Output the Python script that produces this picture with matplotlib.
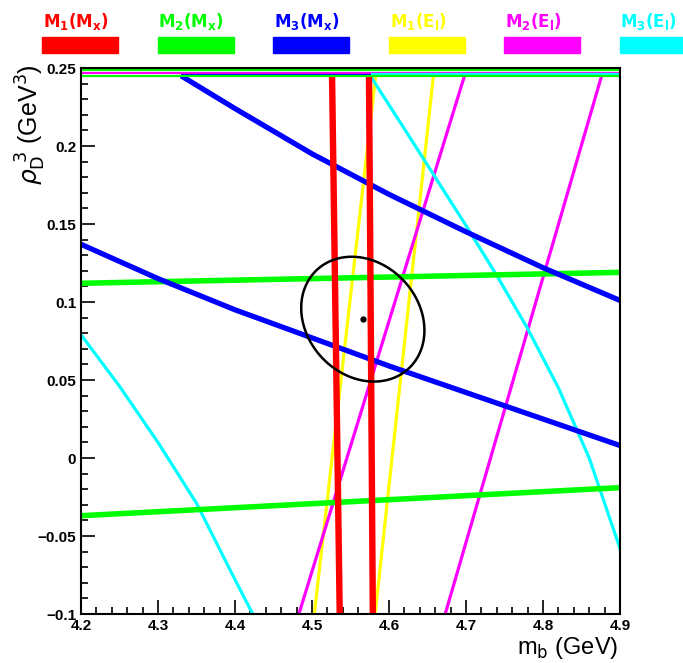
import numpy as np
import matplotlib
matplotlib.use("Agg")
import matplotlib.pyplot as plt
from matplotlib.patches import Polygon
from matplotlib.ticker import MultipleLocator, FuncFormatter

plt.rcParams['font.family'] = ['Liberation Sans', 'DejaVu Sans']

# ---- data ----
XMIN, XMAX = 4.2, 4.9
YMIN, YMAX = -0.1, 0.25
TOP_Y = 0.2465  # curves run along the top edge once clipped

# M1(Mx), red: two almost vertical bands (x at bottom, x at top)
red_x = [[4.536, 4.526], [4.579, 4.574]]
red_y = [-0.1, TOP_Y]

# M2(Mx), green: two nearly flat lines
green_x = [4.2, 4.9]
green_upper = [0.112, 0.119]
green_lower = [-0.037, -0.019]

# M3(Mx), blue
blue_lower_x = [4.2, 4.3, 4.4, 4.5, 4.6, 4.7, 4.8, 4.9]
blue_lower_y = [0.137, 0.115, 0.095, 0.077, 0.059, 0.042, 0.025, 0.008]
blue_upper_x = [4.33, 4.4, 4.5, 4.6, 4.7, 4.8, 4.9]
blue_upper_y = [0.245, 0.224, 0.195, 0.169, 0.145, 0.122, 0.101]

# M1(El), yellow
yellow_x = [[4.503, 4.583], [4.582, 4.658]]
yellow_y = [-0.1, TOP_Y]

# M2(El), magenta
pink_x = [[4.483, 4.699], [4.673, 4.877]]
pink_y = [-0.1, TOP_Y]

# M3(El), cyan
cyan_left_x = [4.2, 4.25, 4.3, 4.35, 4.4, 4.423]
cyan_left_y = [0.079, 0.046, 0.010, -0.029, -0.078, -0.1]
cyan_right_x = [4.577, 4.62, 4.66, 4.70, 4.74, 4.78, 4.82, 4.86, 4.9]
cyan_right_y = [0.244, 0.211, 0.180, 0.149, 0.117, 0.083, 0.045, 0.000, -0.058]

# top-edge segments (colour, x start, x end, y)
top_colors = ['#00ff00', '#ff00ff', '#0000ff', '#00ffff', '#00ff00']
top_x0 = [4.2, 4.2, 4.33, 4.577, 4.2]
top_x1 = [4.9, 4.9, 4.9, 4.9, 4.9]
top_y = [0.2488, 0.2468, 0.2458, 0.2462, 0.2447]

# fit result: centre and 1-sigma ellipse
fit_center = (4.566, 0.089)
fit_sigma = (0.080, 0.040)
fit_rho = -0.18

legend_labels = [r'$\mathbf{M_1(M_x)}$', r'$\mathbf{M_2(M_x)}$', r'$\mathbf{M_3(M_x)}$',
                 r'$\mathbf{M_1(E_l)}$', r'$\mathbf{M_2(E_l)}$', r'$\mathbf{M_3(E_l)}$']
legend_colors = ['#ff0000', '#00ff00', '#0000ff', '#ffff00', '#ff00ff', '#00ffff']

W, H = 683, 663
fig = plt.figure(figsize=(W / 100, H / 100), dpi=100)
ax = fig.add_axes([81 / W, 1 - 614 / H, (620 - 81) / W, (614 - 68) / H])

lw_thin = 2.3
for xs in yellow_x:
    ax.plot(xs, yellow_y, color='#ffff00', lw=lw_thin, solid_capstyle='butt')
for xs in pink_x:
    ax.plot(xs, pink_y, color='#ff00ff', lw=lw_thin, solid_capstyle='butt')
ax.plot(cyan_left_x, cyan_left_y, color='#00ffff', lw=lw_thin)
ax.plot(cyan_right_x, cyan_right_y, color='#00ffff', lw=lw_thin)

ax.plot(green_x, green_upper, color='#00ff00', lw=4.0, solid_capstyle='butt')
ax.plot(green_x, green_lower, color='#00ff00', lw=4.0, solid_capstyle='butt')
ax.plot(blue_lower_x, blue_lower_y, color='#0000ff', lw=3.8, solid_capstyle='butt')
ax.plot(blue_upper_x, blue_upper_y, color='#0000ff', lw=3.8, solid_capstyle='butt')
for xs in red_x:
    ax.plot(xs, red_y, color='#ff0000', lw=4.6, solid_capstyle='butt')

for c, x0, x1, y in zip(top_colors, top_x0, top_x1, top_y):
    ax.plot([x0, x1], [y, y], color=c, lw=1.6, solid_capstyle='butt')

t = np.linspace(0, 2 * np.pi, 200, endpoint=False)
ex = fit_center[0] + fit_sigma[0] * np.cos(t)
ey = fit_center[1] + fit_sigma[1] * (fit_rho * np.cos(t) + np.sqrt(1 - fit_rho ** 2) * np.sin(t))
ax.add_patch(Polygon(np.column_stack([ex, ey]), closed=True, fill=False,
                     edgecolor='black', lw=1.8, zorder=5))
ax.plot([fit_center[0]], [fit_center[1]], 'o', color='black', ms=3.5, zorder=6)

ax.set_xlim(XMIN, XMAX)
ax.set_ylim(YMIN, YMAX)
ax.xaxis.set_major_locator(MultipleLocator(0.1))
ax.xaxis.set_minor_locator(MultipleLocator(0.02))
ax.yaxis.set_major_locator(MultipleLocator(0.05))
ax.yaxis.set_minor_locator(MultipleLocator(0.01))
fmt = FuncFormatter(lambda v, p: ('%g' % round(v, 3)).replace('-', '\u2212'))
ax.xaxis.set_major_formatter(fmt)
ax.yaxis.set_major_formatter(fmt)
ax.tick_params(which='both', direction='in', top=False, right=False, width=1.2)
ax.tick_params(which='major', length=10, labelsize=11)
ax.tick_params(which='minor', length=5)
for lab in ax.get_xticklabels() + ax.get_yticklabels():
    lab.set_fontweight('bold')
for s in ax.spines.values():
    s.set_linewidth(1.5)

fig.text(618 / W, 1 - 648 / H, r'm$_\mathrm{b}$ (GeV)', ha='right', va='center', fontsize=17)
fig.text(31 / W, 1 - 64 / H, r'$\rho_\mathrm{D}^{\ 3}$ (GeV$^3$)', ha='center', va='top',
         rotation=90, fontsize=18)

# legend: coloured label over a coloured bar
bar_w = 76
for i, (lab, c) in enumerate(zip(legend_labels, legend_colors)):
    x0 = 42 + i * 115.5
    fig.patches.append(plt.Rectangle((x0 / W, 1 - 53 / H), bar_w / W, 16 / H,
                                     transform=fig.transFigure, color=c))
    fig.text((x0 + 1) / W, 1 - 22 / H, lab, color=c, ha='left', va='center', fontsize=12)

fig.savefig('out.png', dpi=100)
